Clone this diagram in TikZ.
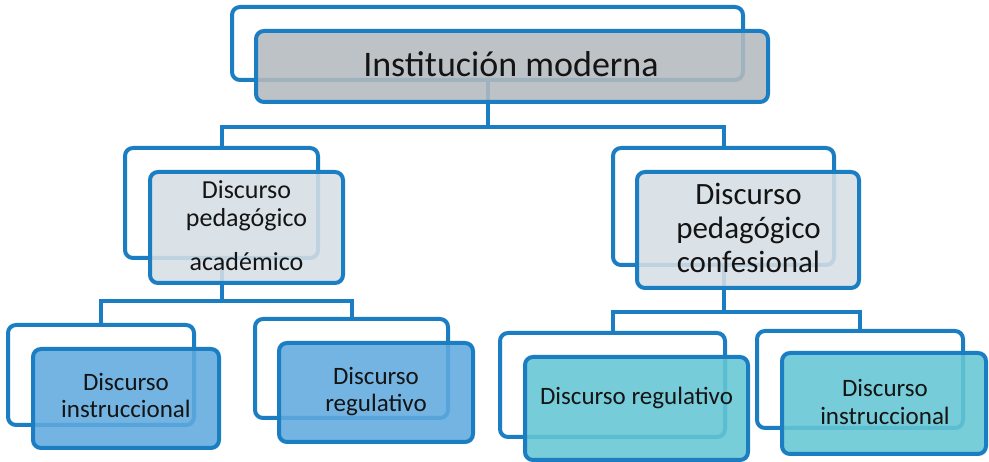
\documentclass[tikz,border=0pt]{standalone}
\usepackage{fontspec}
\setmainfont{Carlito}
\definecolor{lineblue}{RGB}{28,126,194}
\definecolor{topfill}{RGB}{180,186,191}
\definecolor{midfill}{RGB}{214,222,229}
\definecolor{bluefill}{RGB}{96,170,223}
\definecolor{tealfill}{RGB}{100,198,211}
\definecolor{txtcol}{RGB}{20,20,20}
\tikzset{
  backbox/.style={draw=lineblue, line width=4pt, rounded corners=8pt, fill=white, inner sep=0pt},
  frontbox/.style={draw=lineblue, line width=4pt, rounded corners=8pt, fill opacity=0.88, inner sep=0pt},
  conn/.style={draw=lineblue, line width=4pt},
  txt/.style={text=txtcol, align=center, inner sep=0pt},
}
\begin{document}
\begin{tikzpicture}[x=1pt,y=-1pt]
\useasboundingbox (0,0) rectangle (989,462);
% back frames
\node[backbox, minimum width=511pt, minimum height=73pt] (b0) at (487.5,43.5) {};
\node[backbox, minimum width=193pt, minimum height=110pt] (b1) at (221.5,203) {};
\node[backbox, minimum width=221pt, minimum height=117pt] (b2) at (723.5,206.5) {};
\node[backbox, minimum width=186pt, minimum height=100pt] (b3) at (101,375) {};
\node[backbox, minimum width=193pt, minimum height=99pt] (b4) at (351.5,368.5) {};
\node[backbox, minimum width=225pt, minimum height=104pt] (b5) at (612.5,385) {};
\node[backbox, minimum width=206pt, minimum height=97pt] (b6) at (860,379.5) {};
% connectors
\coordinate (j0) at (487.5,127);
\coordinate (j1) at (221.5,301);
\coordinate (j2) at (723.5,312);
\draw[conn] (b0.south) -- (j0);
\draw[conn] (j0) -| (b1.north);
\draw[conn] (j0) -| (b2.north);
\draw[conn] (b1.south) -- (j1);
\draw[conn] (j1) -| (b3.north);
\draw[conn] (j1) -| (b4.north);
\draw[conn] (b2.south) -- (j2);
\draw[conn] (j2) -| (b5.north);
\draw[conn] (j2) -| (b6.north);
% front boxes
\node[frontbox, fill=topfill, minimum width=512pt, minimum height=71pt] (f0) at (512,66.5) {};
\node[frontbox, fill=midfill, minimum width=193pt, minimum height=111pt] (f1) at (246.5,227.5) {};
\node[frontbox, fill=midfill, minimum width=222pt, minimum height=116pt] (f2) at (748,230) {};
\node[frontbox, fill=bluefill, minimum width=186pt, minimum height=99pt] (f3) at (126,398.5) {};
\node[frontbox, fill=bluefill, minimum width=194pt, minimum height=99pt] (f4) at (376,392.5) {};
\node[frontbox, fill=tealfill, minimum width=223pt, minimum height=103pt] (f5) at (636.5,408.5) {};
\node[frontbox, fill=tealfill, minimum width=204pt, minimum height=101pt] (f6) at (884,403.5) {};
% texts
\node[txt, font=\fontsize{36}{40}\selectfont] (t0) at (511,64) {Institución moderna};
\node[txt, font=\fontsize{26}{28}\selectfont] (t1) at (246.5,226) {Discurso\\pedagógico\\[16pt]académico};
\node[txt, font=\fontsize{31}{34}\selectfont] (t2) at (748.5,227.5) {Discurso\\pedagógico\\confesional};
\node[txt, font=\fontsize{25}{26.5}\selectfont] (t3) at (126,395.5) {Discurso\\instruccional};
\node[txt, font=\fontsize{25}{27}\selectfont] (t4) at (376,391.5) {Discurso\\regulativo};
\node[txt, font=\fontsize{25}{27}\selectfont] (t5) at (636.5,398) {Discurso regulativo};
\node[txt, font=\fontsize{25}{28}\selectfont] (t6) at (885,401.5) {Discurso\\instruccional};
\end{tikzpicture}
\end{document}
